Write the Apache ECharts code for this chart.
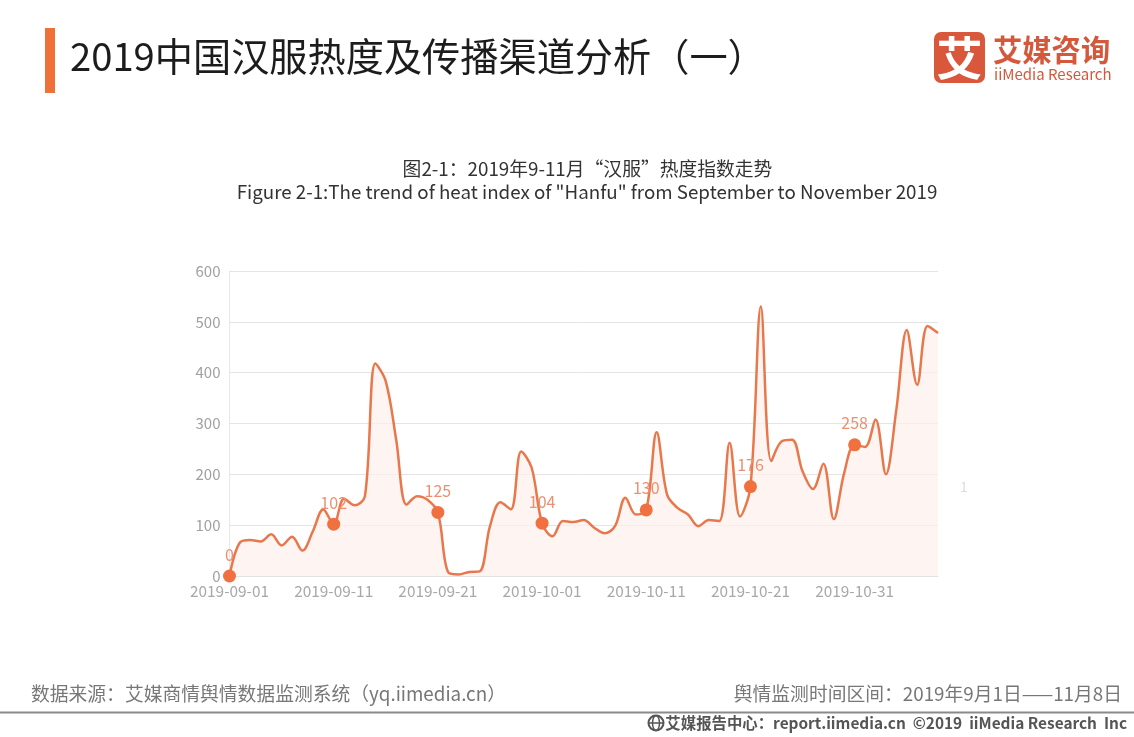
<!DOCTYPE html>
<html><head><meta charset="utf-8">
<style>html,body{margin:0;padding:0;background:#fff}#c{width:1134px;height:737px}</style>
<script src="https://cdn.jsdelivr.net/npm/echarts@6/dist/echarts.min.js"></script>
</head><body><div id="c"></div>
<script>
const startDate = '2019-09-01';
const heatValues = [0,66,71,68,82,60,77,50,88,131,102,152,139,157,418,383,268,140,157,150,125,7,3,8,9,98,145,131,245,213,104,78,108,106,110,95,84,98,154,121,130,283,160,134,121,98,110,108,262,117,176,530,226,265,268,206,171,221,112,203,258,254,308,200,327,484,376,492,478];
const highlightIndices = [0,10,20,30,40,50,60];
const titleText = '2019中国汉服热度及传播渠道分析（一）';
const subtitleCn = '图2-1：2019年9-11月“汉服”热度指数走势';
const subtitleEn = 'Figure 2-1:The trend of heat index of "Hanfu" from September to November 2019';
const sourceText = '数据来源：艾媒商情舆情数据监测系统（yq.iimedia.cn）';
const periodText = '舆情监测时间区间：2019年9月1日——11月8日';
const footerText = '艾媒报告中心：report.iimedia.cn  ©2019  iiMedia Research  Inc';

const fmt = d => d.getFullYear()+'-'+String(d.getMonth()+1).padStart(2,'0')+'-'+String(d.getDate()).padStart(2,'0');
const categories = heatValues.map((_,i)=>{const d=new Date(startDate+'T12:00:00');d.setDate(d.getDate()+i);return fmt(d);});
const font = '"Noto Sans CJK SC","Noto Sans",sans-serif';
const chart = echarts.init(document.getElementById('c'),null,{renderer:'canvas'});
const txt = (x,y,text,size,color,align,extra) => ({type:'text',x,y,silent:true,style:Object.assign({text,x:0,y:0,fontFamily:font,fontSize:size,fill:color,align:align||'left',verticalAlign:'middle'},extra||{})});
chart.setOption({
  animation:false,
  backgroundColor:'#fff',
  grid:{left:229.5,right:196,top:271,bottom:161,containLabel:false},
  xAxis:{type:'category',boundaryGap:false,data:categories,
    axisTick:{show:false},
    axisLine:{lineStyle:{color:'#e2e2e2',width:1}},
    axisLabel:{interval:(i)=>i%10===0,color:'#a8a8a8',fontSize:15.4,fontFamily:font,margin:7,hideOverlap:false},
    splitLine:{show:false}},
  yAxis:{type:'value',min:0,max:600,interval:100,
    axisTick:{show:false},
    axisLine:{show:true,lineStyle:{color:'#e8e8e8',width:1}},
    axisLabel:{color:'#a0a0a0',fontSize:15,fontFamily:font,margin:9},
    splitLine:{lineStyle:{color:'#e4e4e4',width:1}}},
  series:[
    {type:'line',data:heatValues,smooth:0.35,symbol:'none',
     lineStyle:{color:'#e8784c',width:2.5},
     areaStyle:{color:'#fdf1ec'},z:2},
    {type:'scatter',data:highlightIndices.map(i=>[categories[i],heatValues[i]]),
     symbol:'circle',symbolSize:13,itemStyle:{color:'#f0703f',opacity:1},z:3,
     label:{show:true,position:'top',distance:7,color:'#ec8f70',fontSize:16,fontFamily:font,
       formatter:p=>String(p.value[1])}}
  ],
  graphic:[
    {type:'rect',shape:{x:45,y:28,width:10,height:65},style:{fill:'#f0703a'},silent:true},
    txt(70,56,titleText,38.2,'#1c1c1c'),
    txt(587.5,169,subtitleCn,18.8,'#333333','center'),
    txt(587,192,subtitleEn,18.75,'#333333','center'),
    txt(964,487,'1',14,'#dddddd','center'),
    {type:'rect',shape:{x:934,y:32,width:51,height:51,r:7},style:{fill:'#d9573a'},silent:true},
    txt(959.5,58,'艾',46,'#ffffff','center',{fontWeight:'bold'}),
    txt(993,50,'艾媒咨询',29.3,'#d4593c','left',{fontWeight:'bold'}),
    txt(994,74,'iiMedia Research',15,'#d4593c'),
    txt(31,694,sourceText,18.8,'#777777'),
    txt(1122,694,periodText,18.8,'#777777','right'),
    {type:'rect',shape:{x:0,y:711.5,width:1134,height:2},style:{fill:'#8a8a8a'},silent:true},
    {type:'circle',shape:{cx:656,cy:723,r:7.5},style:{fill:'none',stroke:'#555',lineWidth:2},silent:true},
    {type:'line',shape:{x1:648.5,y1:723,x2:663.5,y2:723},style:{stroke:'#555',lineWidth:1.5},silent:true},
    {type:'ellipse',shape:{cx:656,cy:723,rx:3.5,ry:7.5},style:{fill:'none',stroke:'#555',lineWidth:1.5},silent:true},
    txt(1127,723,footerText,15.4,'#555555','right',{fontWeight:'bold'})
  ]
});
</script></body></html>
